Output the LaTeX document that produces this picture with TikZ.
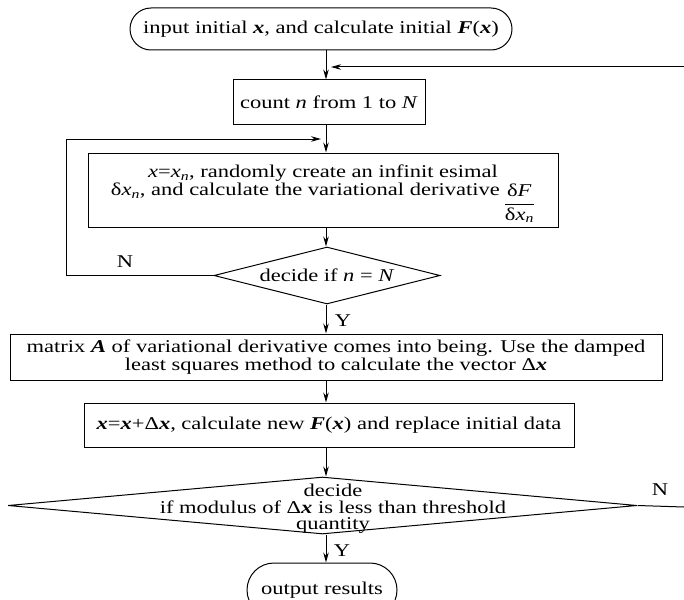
\documentclass[tikz,border=0pt]{standalone}
\usepackage{fontspec}
\setmainfont{Liberation Serif}[FakeStretch=1.25]
\usetikzlibrary{arrows.meta,shapes.misc,shapes.geometric}
\newcommand\bfit[1]{\textbf{\textit{#1}}}
\begin{document}
\begin{tikzpicture}[x=1pt,y=-1pt,
  font=\fontsize{18}{18}\selectfont,
  line width=1pt,
  arr/.style={-{Stealth[length=10pt,width=5.5pt]}},
  term/.style={draw,rounded rectangle,inner sep=0pt},
  proc/.style={draw,rectangle,inner sep=0pt,align=center},
  dec/.style={draw,diamond,inner sep=0pt},
  lbl/.style={inner sep=0pt}]
\useasboundingbox (0,0) rectangle (684,599);
\clip (0,0) rectangle (684,599);
\coordinate (spine) at (326,0);
\node[term,minimum width=382pt,minimum height=42pt] (start) at (321,29)
  {input initial \bfit{x}, and calculate initial \bfit{F}(\bfit{x})};
\node[proc,minimum width=192pt,minimum height=44pt] (count) at (329,102)
  {count \textit{n} from 1 to \textit{N}};
\node[proc,minimum width=470pt,minimum height=74pt,font=\fontsize{18}{18.5}\selectfont] (big) at (323,190)
  {\rule{0pt}{20pt}\textit{x}=\textit{x}\textsubscript{\textit{n}}, randomly create an infinit esimal\\
   δ\textit{x}\textsubscript{\textit{n}}, and calculate the variational derivative\hspace{4pt}\raisebox{-0.68em}{$\displaystyle\frac{\mbox{δ\textit{F}}}{\mbox{δ\textit{x}\textsubscript{\textit{n}}}}$}};
\node[dec,minimum width=226pt,minimum height=57pt] (d1) at (327,275.5) {};
\node[lbl] (d1t) at (d1) {decide if \textit{n} = \textit{N}};
\node[proc,minimum width=652pt,minimum height=46pt] (boxA) at (336,357)
  {matrix \bfit{A} of variational derivative comes into being. Use the damped\\
   least squares method to calculate the vector Δ\bfit{x}};
\node[proc,minimum width=490pt,minimum height=44pt] (boxB) at (329,425)
  {\bfit{x}=\bfit{x}+Δ\bfit{x}, calculate new \bfit{F}(\bfit{x}) and replace initial data};
\node[dec,minimum width=629pt,minimum height=57pt] (d2) at (322.5,505.5) {};
\node[lbl,align=center,font=\fontsize{18}{16.5}\selectfont] (d2t) at (333,509)
  {decide\\ if modulus of Δ\bfit{x} is less than threshold\\ quantity};
\node[term,minimum width=150pt,minimum height=54pt] (out) at (322,590)
  {output results};
% labels
\node[lbl] (n1) at (125,262) {N};
\node[lbl] (y1) at (343,321) {Y};
\node[lbl] (n2) at (660,490) {N};
\node[lbl] (y2) at (342,551) {Y};
% connectors
\coordinate (fbR) at (684,67);
\coordinate (fbE) at (684,507);
\coordinate (loopL) at (66,139);
\draw[arr] (start.south -| spine) -- (count.north -| spine);
\draw[arr] (fbR) -- ([xshift=5pt]spine |- fbR);
\draw[arr] (count.south -| spine) -- (big.north -| spine);
\draw[arr] (big.south -| spine) -- (d1.north -| spine);
\draw (d1.west) -- (d1.west -| loopL) -- (loopL);
\draw[arr] (loopL) -- ([xshift=-5pt]spine |- loopL);
\draw[arr] (d1.south -| spine) -- (boxA.north -| spine);
\draw[arr] (boxA.south -| spine) -- (boxB.north -| spine);
\draw[arr] (boxB.south -| spine) -- (d2.north -| spine);
\draw (d2.east) -- (fbE);
\draw[arr] (d2.south -| spine) -- (out.north -| spine);
\end{tikzpicture}
\end{document}
